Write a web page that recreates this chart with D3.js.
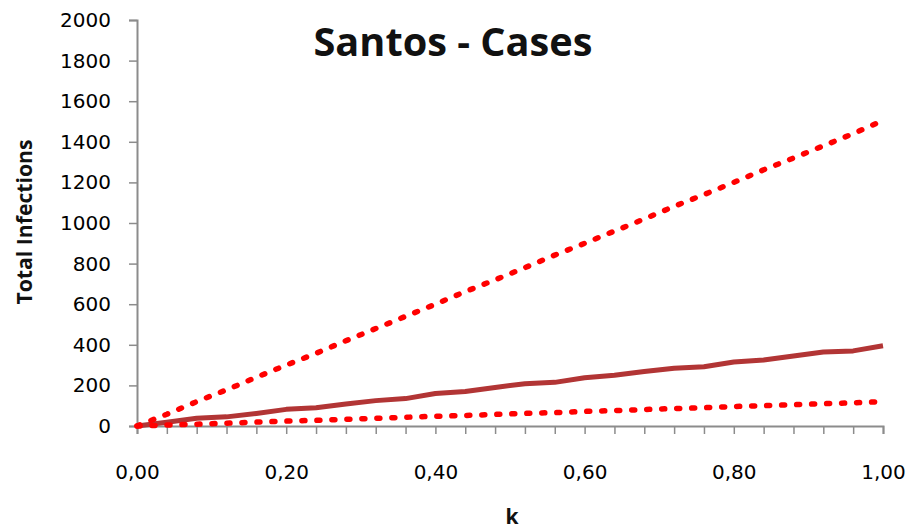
<!DOCTYPE html>
<html>
<head>
<meta charset="utf-8">
<script src="https://cdn.jsdelivr.net/npm/d3@7"></script>
<style>
  html, body {margin: 0; padding: 0; background: #fff;}
  #app {width: 922px; height: 530px;}
</style>
</head>
<body>
<div id="app"></div>
<script>
`use strict`;

const Title = `Santos - Cases`;

const K = [0, .04, .08, .12, .16, .20, .24, .28, .32, .36, .40, .44, .48, .52, .56, .60, .64, .68, .72, .76, .80, .84, .88, .92, .96, 1.00];

const Upper = [0, 58, 120, 178, 240, 300, 358, 420, 480, 540, 600, 662, 720, 780, 842, 900, 960, 1020, 1082, 1140, 1200, 1262, 1320, 1380, 1440, 1505];

const Mean = [0, 18, 38, 45, 62, 82, 90, 108, 125, 135, 160, 170, 190, 208, 215, 238, 250, 268, 285, 292, 315, 325, 345, 365, 370, 395];

const Lower = [0, 5, 9, 14, 19, 24, 28, 33, 38, 43, 48, 52, 57, 62, 66, 72, 76, 81, 86, 90, 96, 100, 105, 110, 114, 120];

const YTicks = [0, 200, 400, 600, 800, 1000, 1200, 1400, 1600, 1800, 2000];

const XLabels = [0, .2, .4, .6, .8, 1];

let W = 922, H = 530;

let SVG = d3.select(`#app`).append(`svg`).attr(`width`, W).attr(`height`, H).style(`font-family`, `DejaVu Sans, sans-serif`);

let X = d3.scaleLinear().domain([0, 1]).range([137, 883]),

Y = d3.scaleLinear().domain([0, 2000]).range([426, 20]);

/* axes */

let yAxis = SVG.append(`g`).attr(`transform`, `translate(${X(0)},0)`)
  .call(d3.axisLeft(Y).tickValues(YTicks).tickSize(8).tickPadding(18).tickFormat(d3.format(`d`)));

let xAxis = SVG.append(`g`).attr(`transform`, `translate(0,${Y(0)})`)
  .call(d3.axisBottom(X).tickValues(K).tickSize(8).tickPadding(31).tickFormat(d => XLabels.some(v => Math.abs(v - d) < 1e-6) ? d3.format(`.2f`)(d).replace(`.`, `,`) : ``));

[yAxis, xAxis].forEach(G => {

  G.select(`.domain`).attr(`stroke`, `#8c8c8c`).attr(`stroke-width`, 2);

  G.selectAll(`.tick line`).attr(`stroke`, `#8c8c8c`).attr(`stroke-width`, 1.5);

  G.selectAll(`.tick text`).attr(`fill`, `#000`).style(`font-size`, `20px`).style(`font-family`, `DejaVu Sans, sans-serif`);
});

/* series */

let line = (S) => d3.line().x((d, i) => X(K[i])).y(d => Y(d))(S);

SVG.append(`path`).attr(`d`, line(Mean)).attr(`fill`, `none`).attr(`stroke`, `#b23535`).attr(`stroke-width`, 5).attr(`stroke-linejoin`, `round`);

[Upper, Lower].forEach(S => {

  SVG.append(`path`).attr(`d`, line(S)).attr(`fill`, `none`).attr(`stroke`, `#ff0000`).attr(`stroke-width`, 5.5)
    .attr(`stroke-dasharray`, `3,12`).attr(`stroke-linecap`, `round`);
});

/* texts */

SVG.append(`text`).attr(`x`, 453).attr(`y`, 56).attr(`text-anchor`, `middle`)
  .style(`font-family`, `Open Sans, sans-serif`).style(`font-weight`, 700).style(`font-size`, `40px`)
  .attr(`textLength`, 279).attr(`lengthAdjust`, `spacingAndGlyphs`).attr(`fill`, `#111`).text(Title);

SVG.append(`text`).attr(`transform`, `translate(32,222) rotate(-90)`).attr(`text-anchor`, `middle`)
  .style(`font-family`, `Open Sans, sans-serif`).style(`font-weight`, 700).style(`font-size`, `21px`)
  .attr(`textLength`, 165).attr(`lengthAdjust`, `spacingAndGlyphs`).attr(`fill`, `#111`).text(`Total Infections`);

SVG.append(`text`).attr(`x`, 512).attr(`y`, 524).attr(`text-anchor`, `middle`)
  .style(`font-family`, `Open Sans, sans-serif`).style(`font-weight`, 700).style(`font-size`, `21px`)
  .attr(`fill`, `#111`).text(`k`);
</script>
</body>
</html>
